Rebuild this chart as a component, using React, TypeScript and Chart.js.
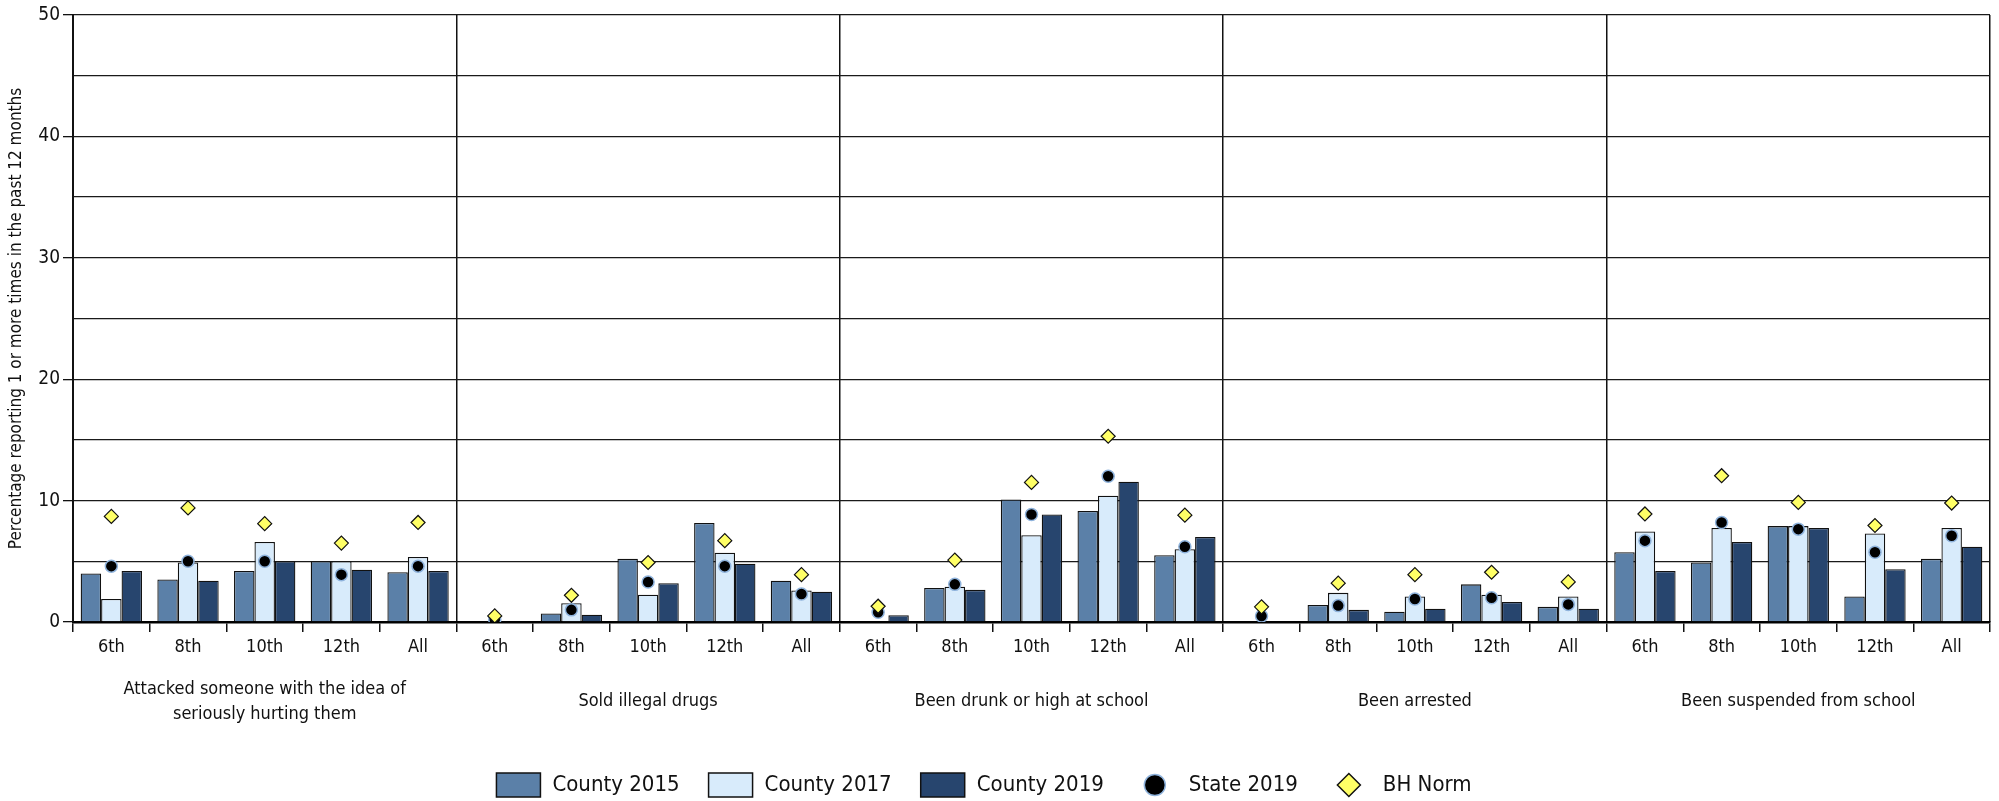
import React, { useEffect, useRef } from 'react';
import { Chart, registerables } from 'chart.js';

Chart.register(...registerables);

const FONT = '"Liberation Sans Narrow", "DejaVu Sans Condensed", "Open Sans", sans-serif';

const grades = ['6th', '8th', '10th', '12th', 'All'];
const groupLabels: (string | string[])[] = [
  ['Attacked someone with the idea of', 'seriously hurting them'],
  'Sold illegal drugs',
  'Been drunk or high at school',
  'Been arrested',
  'Been suspended from school',
];

const county2015 = [4.0, 3.5, 4.2, 5.0, 4.1, 0, 0.7, 5.2, 8.15, 3.4, 0, 2.8, 10.1, 9.15, 5.5, 0, 1.4, 0.85, 3.1, 1.25, 5.75, 4.9, 7.9, 2.1, 5.2];
const county2017 = [1.9, 4.9, 6.6, 5.0, 5.35, 0, 1.55, 2.25, 5.7, 2.6, 0, 2.9, 7.15, 10.4, 6.0, 0, 2.4, 2.1, 2.25, 2.1, 7.45, 7.75, 7.9, 7.3, 7.75];
const county2019 = [4.2, 3.4, 5.0, 4.3, 4.2, 0, 0.6, 3.2, 4.8, 2.5, 0.55, 2.65, 8.85, 11.55, 7.0, 0, 1.0, 1.1, 1.65, 1.1, 4.2, 6.6, 7.75, 4.35, 6.2];
const state2019 = [4.6, 5.0, 5.0, 3.9, 4.6, 0.2, 1.0, 3.3, 4.6, 2.3, 0.8, 3.1, 8.85, 12.0, 6.2, 0.5, 1.35, 1.9, 2.0, 1.45, 6.7, 8.2, 7.65, 5.75, 7.1];
const bhNorm = [8.7, 9.4, 8.1, 6.5, 8.2, 0.5, 2.2, 4.9, 6.7, 3.9, 1.3, 5.1, 11.5, 15.3, 8.8, 1.25, 3.2, 3.9, 4.1, 3.3, 8.9, 12.05, 9.85, 7.95, 9.8];

const yTitle = 'Percentage reporting 1 or more times in the past 12 months';
const legendOrder = ['County 2015', 'County 2017', 'County 2019', 'State 2019', 'BH Norm'];

const C15 = '#5b80a8';
const C17 = '#d8ebfb';
const C19 = '#27456e';

const legendPlugin = {
  id: 'customLegend',
  afterDraw(chart: any) {
    const ctx = chart.ctx as CanvasRenderingContext2D;
    const ds = legendOrder.map((name) => chart.data.datasets.find((d: any) => d.label === name));
    ctx.save();
    ctx.font = `22px ${FONT}`;
    const slot = 44;
    const gap = 12;
    const itemGap = 29;
    const widths = ds.map((d: any) => slot + gap + ctx.measureText(d.label).width);
    const total = widths.reduce((a: number, b: number) => a + b, 0) + itemGap * (ds.length - 1);
    let x = 984 - total / 2;
    const cy = 785;
    ds.forEach((d: any, i: number) => {
      const kind = d.legendKind;
      if (kind === 'box') {
        ctx.fillStyle = d.backgroundColor;
        ctx.fillRect(x, cy - 12, slot, 24);
        ctx.lineWidth = 1.5;
        ctx.strokeStyle = '#111';
        ctx.strokeRect(x, cy - 12, slot, 24);
      } else if (kind === 'circle') {
        ctx.beginPath();
        ctx.arc(x + slot / 2, cy, 10.5, 0, Math.PI * 2);
        ctx.fillStyle = '#000';
        ctx.fill();
        ctx.lineWidth = 1.5;
        ctx.strokeStyle = '#8fb3dc';
        ctx.stroke();
      } else {
        const cx = x + slot / 2;
        const r = 11.5;
        ctx.beginPath();
        ctx.moveTo(cx - r, cy);
        ctx.lineTo(cx, cy - r);
        ctx.lineTo(cx + r, cy);
        ctx.lineTo(cx, cy + r);
        ctx.closePath();
        ctx.fillStyle = '#ffff66';
        ctx.fill();
        ctx.lineWidth = 1.5;
        ctx.strokeStyle = '#111';
        ctx.stroke();
      }
      ctx.fillStyle = '#111';
      ctx.textBaseline = 'middle';
      ctx.textAlign = 'left';
      ctx.fillText(d.label, x + slot + gap, cy);
      x += widths[i] + itemGap;
    });
    ctx.restore();
  },
};

export default function App() {
  const ref = useRef<HTMLCanvasElement>(null);

  useEffect(() => {
    document.body.style.margin = '0';
    const labels = groupLabels.flatMap(() => grades);
    const chart = new Chart(ref.current as HTMLCanvasElement, {
      type: 'bar',
      data: {
        labels,
        datasets: [
          {
            type: 'line',
            label: 'BH Norm',
            data: bhNorm,
            showLine: false,
            pointStyle: 'rectRot',
            pointRadius: 7,
            pointBackgroundColor: '#ffff66',
            pointBorderColor: '#111',
            pointBorderWidth: 1.2,
            backgroundColor: '#ffff66',
            borderColor: '#111',
            order: 0,
            legendKind: 'diamond',
          } as any,
          {
            type: 'line',
            label: 'State 2019',
            data: state2019,
            showLine: false,
            pointStyle: 'circle',
            pointRadius: 6,
            pointBackgroundColor: '#000',
            pointBorderColor: '#8fb3dc',
            pointBorderWidth: 1.5,
            backgroundColor: '#000',
            borderColor: '#8fb3dc',
            order: 1,
            legendKind: 'circle',
          } as any,
          {
            label: 'County 2015',
            data: county2015,
            backgroundColor: C15,
            borderColor: '#111',
            borderWidth: 1.3,
            categoryPercentage: 0.8,
            barPercentage: 1.0,
            order: 2,
            legendKind: 'box',
          } as any,
          {
            label: 'County 2017',
            data: county2017,
            backgroundColor: C17,
            borderColor: '#111',
            borderWidth: 1.3,
            categoryPercentage: 0.8,
            barPercentage: 1.0,
            order: 2,
            legendKind: 'box',
          } as any,
          {
            label: 'County 2019',
            data: county2019,
            backgroundColor: C19,
            borderColor: '#111',
            borderWidth: 1.3,
            categoryPercentage: 0.8,
            barPercentage: 1.0,
            order: 2,
            legendKind: 'box',
          } as any,
        ],
      },
      options: {
        animation: false,
        responsive: false,
        devicePixelRatio: 1,
        layout: { padding: { top: 15, right: 9, left: 0, bottom: 44 } },
        plugins: {
          legend: { display: false },
          tooltip: { enabled: false },
        },
        scales: {
          x: {
            offset: true,
            grid: { offset: true, drawOnChartArea: false, tickLength: 10, color: '#111', lineWidth: 1.5 },
            border: { color: '#000', width: 2.5 },
            ticks: {
              callback: (_v: any, i: number) => grades[i % grades.length],
              font: { family: FONT, size: 18 },
              color: '#111',
              padding: 5,
              maxRotation: 0,
              autoSkip: false,
            },
            afterFit: (s: any) => { s.height = 45; },
          },
          x2: {
            type: 'category',
            labels: groupLabels as any,
            position: 'bottom',
            offset: true,
            grid: { offset: true, drawOnChartArea: true, drawTicks: false, color: '#111', lineWidth: 1.5 },
            border: { display: false },
            ticks: {
              font: { family: FONT, size: 18, lineHeight: 1.4 },
              color: '#111',
              padding: 22,
              maxRotation: 0,
              autoSkip: false,
              crossAlign: 'center',
            },
            afterFit: (s: any) => { s.height = 90; },
          } as any,
          y: {
            min: 0,
            max: 50,
            ticks: {
              stepSize: 5,
              callback: (v: any) => (Number(v) % 10 === 0 ? String(v) : ''),
              font: { family: FONT, size: 19 },
              color: '#111',
              padding: 3,
            },
            grid: {
              color: '#1a1a1a',
              lineWidth: 1.3,
              tickLength: 10,
              tickColor: (c: any) => (c.tick && c.tick.value % 10 === 0 ? '#111' : 'rgba(0,0,0,0)'),
            },
            border: { color: '#111', width: 2 },
            title: {
              display: true,
              text: yTitle,
              font: { family: FONT, size: 17 },
              color: '#111',
              padding: { top: 6, bottom: 0 },
            },
            afterFit: (s: any) => { s.width = 73; },
          },
        },
      },
      plugins: [legendPlugin],
    });
    return () => chart.destroy();
  }, []);

  return (
    <div style={{ width: 1999, height: 801 }}>
      <canvas ref={ref} width={1999} height={801} style={{ width: 1999, height: 801, display: 'block' }} />
    </div>
  );
}
